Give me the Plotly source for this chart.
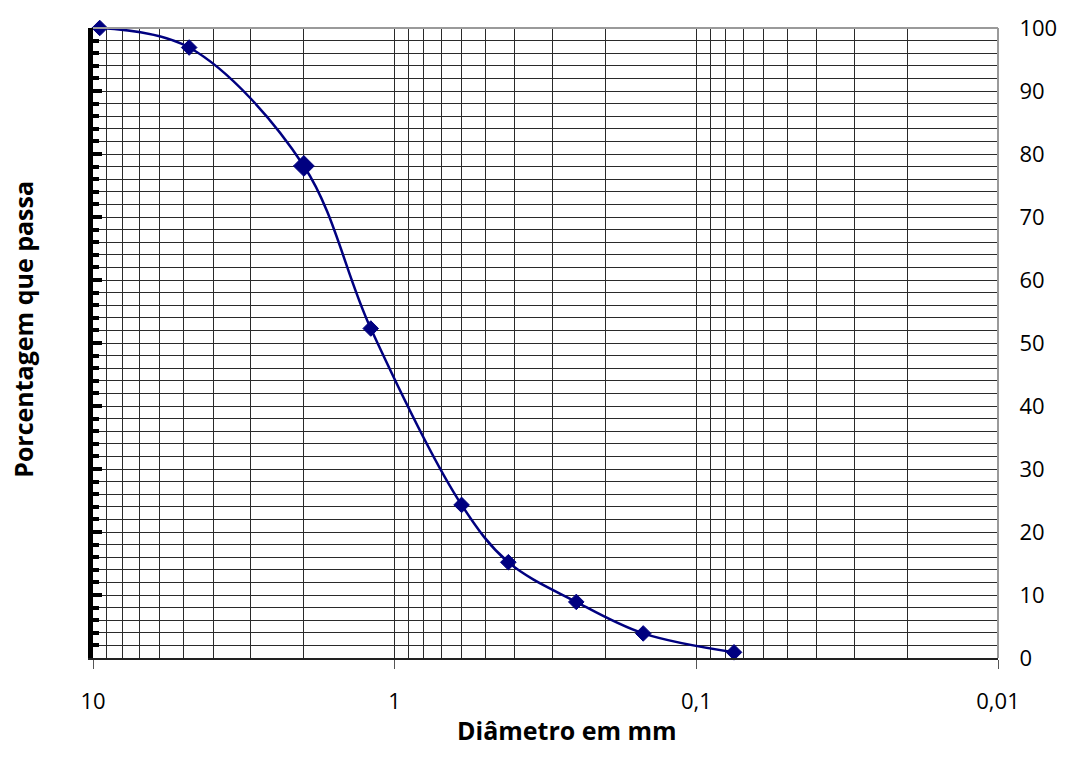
import plotly.graph_objects as go

# Data
diametro_mm = [9.5, 4.8, 2.0, 1.2, 0.6, 0.42, 0.25, 0.15, 0.075]
porcentagem_passa = [100.0, 96.9, 78.1, 52.3, 24.3, 15.2, 8.9, 3.9, 0.9]

x_tick_vals = [10, 1, 0.1, 0.01]
x_tick_text = ["10", "1", "0,1", "0,01"]
x_minor_vals = [m * d for d in (0.01, 0.1, 1) for m in range(2, 10)]
y_tick_vals = list(range(0, 101, 10))

FONT = "Open Sans"
NAVY = "#000080"
GRID = "#2a2a2a"

marker_sizes = [12, 12, 16, 12, 12, 12, 12, 12, 12]

fig = go.Figure()
fig.add_trace(go.Scatter(
    x=diametro_mm, y=porcentagem_passa,
    mode="lines+markers",
    line=dict(color=NAVY, width=2.5, shape="spline", smoothing=1.0),
    marker=dict(symbol="diamond", size=marker_sizes, color=NAVY,
                opacity=1, line=dict(color=NAVY, width=1)),
    cliponaxis=False, showlegend=False,
))
# invisible companion trace for the left (decorative) axis
fig.add_trace(go.Scatter(
    x=diametro_mm, y=porcentagem_passa, yaxis="y2",
    mode="markers", marker=dict(opacity=0), hoverinfo="skip", showlegend=False,
))

fig.update_layout(
    width=1072, height=769,
    margin=dict(l=93, r=74, t=19, b=111),
    paper_bgcolor="white", plot_bgcolor="white",
    font=dict(family=FONT, size=22, color="black"),
    xaxis=dict(
        type="log", range=[1, -2],
        tickmode="array", tickvals=x_tick_vals, ticktext=x_tick_text,
        ticks="outside", ticklen=9, tickwidth=1, tickcolor="#555",
        ticklabelstandoff=14,
        showgrid=True, gridcolor=GRID, gridwidth=1,
        minor=dict(tickmode="array", tickvals=x_minor_vals, showgrid=True,
                   gridcolor=GRID, gridwidth=1, ticks=""),
        showline=True, linecolor="#222", linewidth=2,
        zeroline=False,
    ),
    yaxis=dict(
        range=[0, 100], side="right",
        tickmode="array", tickvals=y_tick_vals,
        ticks="outside", ticklen=0, ticklabelstandoff=16,
        showgrid=True, gridcolor=GRID, gridwidth=1,
        minor=dict(dtick=2, showgrid=True, gridcolor=GRID, gridwidth=1, ticks=""),
        showline=False, zeroline=False,
    ),
    yaxis2=dict(
        range=[0, 100], side="left", overlaying="y",
        showgrid=False, zeroline=False, showticklabels=False,
        showline=True, linecolor="black", linewidth=5,
        tickmode="linear", tick0=0, dtick=10,
        ticks="inside", ticklen=9, tickwidth=4, tickcolor="black",
        minor=dict(dtick=2, ticks="inside", ticklen=6, tickwidth=4, tickcolor="black"),
    ),
    shapes=[
        dict(type="line", xref="paper", yref="paper", x0=0, x1=1, y0=1, y1=1,
             line=dict(color="#9a9a9a", width=2)),
        dict(type="line", xref="paper", yref="paper", x0=1, x1=1, y0=0, y1=1,
             line=dict(color="#9a9a9a", width=2)),
    ],
    annotations=[
        dict(text="<b>Diâmetro em mm</b>", xref="paper", yref="paper",
             x=0.524, y=-0.114, xanchor="center", yanchor="middle",
             showarrow=False, font=dict(family=FONT, size=25, color="black")),
        dict(text="<b>Porcentagem que passa</b>", xref="paper", yref="paper",
             x=-0.0773, y=0.521, xanchor="center", yanchor="middle",
             textangle=-90, showarrow=False,
             font=dict(family=FONT, size=25, color="black")),
    ],
)

fig.write_html("out.html", config={"displayModeBar": False},
               post_script="document.body.style.margin='0';document.body.style.padding='0';")
